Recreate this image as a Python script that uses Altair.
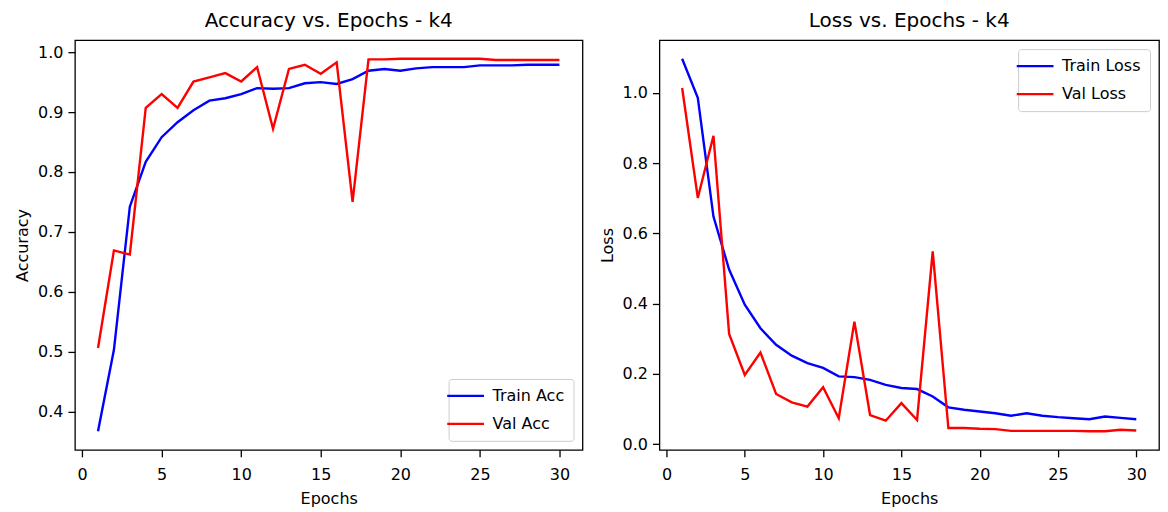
import altair as alt
import pandas as pd

epochs = list(range(1, 31))
train_acc = [0.367, 0.503, 0.742, 0.817, 0.858, 0.883, 0.903, 0.919, 0.923, 0.930,
             0.940, 0.939, 0.940, 0.948, 0.950, 0.947, 0.955, 0.969, 0.972, 0.969,
             0.973, 0.975, 0.975, 0.975, 0.978, 0.978, 0.978, 0.979, 0.979, 0.979]
val_acc = [0.506, 0.669, 0.662, 0.907, 0.930, 0.907, 0.951, 0.958, 0.965, 0.951,
           0.975, 0.872, 0.972, 0.979, 0.964, 0.983, 0.750, 0.988, 0.988, 0.989,
           0.989, 0.989, 0.989, 0.989, 0.989, 0.987, 0.987, 0.987, 0.987, 0.987]
train_loss = [1.097, 0.986, 0.648, 0.497, 0.397, 0.330, 0.283, 0.252, 0.231, 0.217,
              0.193, 0.191, 0.183, 0.169, 0.160, 0.157, 0.136, 0.105, 0.098, 0.093,
              0.088, 0.081, 0.088, 0.081, 0.077, 0.074, 0.071, 0.079, 0.075, 0.071]
val_loss = [1.014, 0.701, 0.878, 0.314, 0.197, 0.261, 0.143, 0.119, 0.107, 0.162,
            0.074, 0.349, 0.083, 0.067, 0.117, 0.069, 0.549, 0.046, 0.046, 0.044,
            0.043, 0.038, 0.038, 0.038, 0.038, 0.038, 0.037, 0.037, 0.041, 0.039]

acc_series = ["Train Acc", "Val Acc"]
loss_series = ["Train Loss", "Val Loss"]
colors = ["#0000ff", "#ff0000"]
x_ticks = [0, 5, 10, 15, 20, 25, 30]
acc_ticks = [0.4, 0.5, 0.6, 0.7, 0.8, 0.9, 1.0]
loss_ticks = [0.0, 0.2, 0.4, 0.6, 0.8, 1.0]

acc_df = pd.DataFrame({
    "Epoch": epochs * 2,
    "Value": train_acc + val_acc,
    "Series": [acc_series[0]] * 30 + [acc_series[1]] * 30,
})
loss_df = pd.DataFrame({
    "Epoch": epochs * 2,
    "Value": train_loss + val_loss,
    "Series": [loss_series[0]] * 30 + [loss_series[1]] * 30,
})

FONT = "DejaVu Sans"

def legend(orient, offset):
    return alt.Legend(
        title=None, orient=orient, offset=offset,
        fillColor="rgba(255,255,255,0.8)", strokeColor="#cccccc", cornerRadius=3,
        padding=9, symbolType="M-4.6,0H4.6", symbolSize=64,
        symbolStrokeWidth=2.4, labelFontSize=16, labelFont=FONT,
        labelColor="black", rowPadding=12, labelOffset=19,
    )

def panel(df, series, title, ytitle, ydomain, yticks, leg_orient, w):
    return alt.Chart(df, title=alt.Title(title, fontSize=20, font=FONT,
                                         fontWeight="normal", color="black", offset=9)).mark_line(
        strokeWidth=2.4, clip=True
    ).encode(
        x=alt.X("Epoch:Q", title="Epochs",
                scale=alt.Scale(domain=[-0.45, 31.45], nice=False, zero=False),
                axis=alt.Axis(values=x_ticks, format="d")),
        y=alt.Y("Value:Q", title=ytitle,
                scale=alt.Scale(domain=ydomain, nice=False, zero=False),
                axis=alt.Axis(values=yticks, format=".1f")),
        color=alt.Color("Series:N", scale=alt.Scale(domain=series, range=colors),
                        legend=legend(leg_orient, 9)),
    ).properties(width=w, height=410)

left = panel(acc_df, acc_series, "Accuracy vs. Epochs - k4", "Accuracy",
             [0.336, 1.020], acc_ticks, "bottom-right", 508)
right = panel(loss_df, loss_series, "Loss vs. Epochs - k4", "Loss",
              [-0.016, 1.150], loss_ticks, "top-right", 500)

chart = alt.hconcat(left, right, spacing=77, bounds="flush").resolve_scale(
    color="independent"
).configure(
    padding={"left": 5, "top": 2, "right": 0, "bottom": 0},
).configure_view(
    stroke="black", strokeWidth=1.3,
).configure_axis(
    grid=False, domain=False, tickColor="black", tickSize=7, tickWidth=1.3,
    labelFont=FONT, labelFontSize=16, labelColor="black",
    titleFont=FONT, titleFontSize=16, titleFontWeight="normal", titleColor="black",
).configure_axisX(
    labelPadding=10, titlePadding=8,
).configure_axisY(
    labelPadding=5, titlePadding=7,
)

chart.save("out.html", embed_options={"renderer": "svg", "actions": False})
